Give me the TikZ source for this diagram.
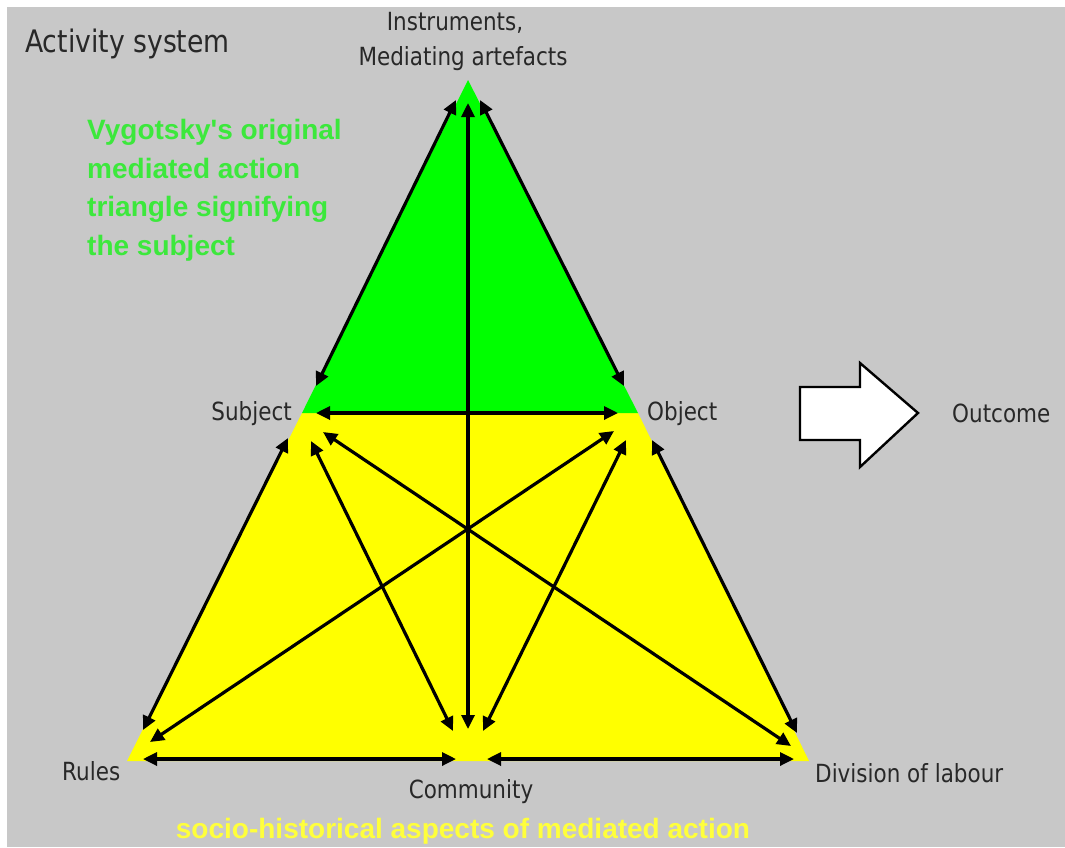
\documentclass[tikz,border=0pt]{standalone}
\usepackage{fontspec}
\setmainfont{DejaVu Sans}
\newfontfamily\condfont{DejaVu Sans}[FakeStretch=0.86]
\newfontfamily\arialfont{Liberation Sans}
\usetikzlibrary{arrows.meta}
\definecolor{bggrey}{RGB}{200,200,200}
\definecolor{fillgreen}{RGB}{0,255,0}
\definecolor{fillyellow}{RGB}{255,255,0}
\definecolor{txtgreen}{RGB}{60,232,60}
\definecolor{txtyellow}{RGB}{255,255,60}
\definecolor{lbltext}{RGB}{40,40,40}
\begin{document}
\begin{tikzpicture}[x=1pt,y=-1pt,
  dbl/.style={{Triangle[length=14pt,width=13pt]}-{Triangle[length=14pt,width=13pt]}, line width=3.2pt, draw=black},
  lbl/.style={font=\condfont\fontsize{25}{30}\selectfont, text=lbltext, inner sep=0pt},
  ttl/.style={font=\condfont\fontsize{31}{36}\selectfont, text=lbltext, inner sep=0pt},
  note/.style={font=\arialfont\bfseries\fontsize{28}{38.5}\selectfont, inner sep=0pt}]
\useasboundingbox (0,0) rectangle (1065,847);
\fill[white] (0,0) rectangle (1065,847);
\fill[bggrey] (7,7) rectangle (1065,847);
% corners
\coordinate (A) at (468,80);
\coordinate (S) at (302,413);
\coordinate (O) at (638,413);
\coordinate (R) at (127,761);
\coordinate (D) at (809,761);
\fill[fillyellow] (S) -- (O) -- (D) -- (R) -- cycle;
\fill[fillgreen] (A) -- (O) -- (S) -- cycle;
% arrow end points
\coordinate (a1) at (456,100); \coordinate (s1) at (316,386);
\coordinate (a2) at (480,100); \coordinate (o1) at (624,386);
\coordinate (a3) at (468,103); \coordinate (c1) at (468,729);
\coordinate (s2) at (316,413); \coordinate (o2) at (618,413);
\coordinate (s3) at (288,438); \coordinate (r1) at (143,730);
\coordinate (o3) at (652,440); \coordinate (d1) at (797,733);
\coordinate (s4) at (311,441); \coordinate (c2) at (453,731);
\coordinate (o4) at (626,440); \coordinate (c3) at (483,731);
\coordinate (s5) at (323,432); \coordinate (d2) at (791,746);
\coordinate (o5) at (614,431); \coordinate (r2) at (150,742);
\coordinate (r3) at (143,759); \coordinate (c4) at (456,759);
\coordinate (c5) at (487,759); \coordinate (d3) at (794,759);
\draw[dbl] (a1) -- (s1);
\draw[dbl] (a2) -- (o1);
\draw[dbl] (a3) -- (c1);
\draw[dbl] (s2) -- (o2);
\draw[dbl] (s3) -- (r1);
\draw[dbl] (o3) -- (d1);
\draw[dbl] (s4) -- (c2);
\draw[dbl] (o4) -- (c3);
\draw[dbl] (s5) -- (d2);
\draw[dbl] (o5) -- (r2);
\draw[dbl] (r3) -- (c4);
\draw[dbl] (c5) -- (d3);
% outcome block arrow
\draw[line width=2.4pt, fill=white, line join=miter]
  (800,387) -- (860,387) -- (860,363) -- (918,413) -- (860,467) -- (860,440) -- (800,440) -- cycle;
% labels
\node[ttl, anchor=base west] (title) at (25,52) {Activity system};
\node[lbl, anchor=base] (instr) at (455,30) {Instruments,};
\node[lbl, anchor=base] (medi) at (463,65) {Mediating artefacts};
\node[lbl, anchor=base east] (subj) at (292,420) {Subject};
\node[lbl, anchor=base west] (obj) at (647,420) {Object};
\node[lbl, anchor=base west] (outc) at (952,422) {Outcome};
\node[lbl, anchor=base west] (rules) at (62,780) {Rules};
\node[lbl, anchor=base] (comm) at (471,798) {Community};
\node[lbl, anchor=base west] (div) at (815,782) {Division of labour};
\node[note, text=txtgreen, anchor=north west, align=left] (vyg) at (87,119.5)
  {Vygotsky's original\\mediated action\\triangle signifying\\the subject};
\node[note, text=txtyellow, anchor=base] (socio) at (463,838) {socio-historical aspects of mediated action};
\end{tikzpicture}
\end{document}
